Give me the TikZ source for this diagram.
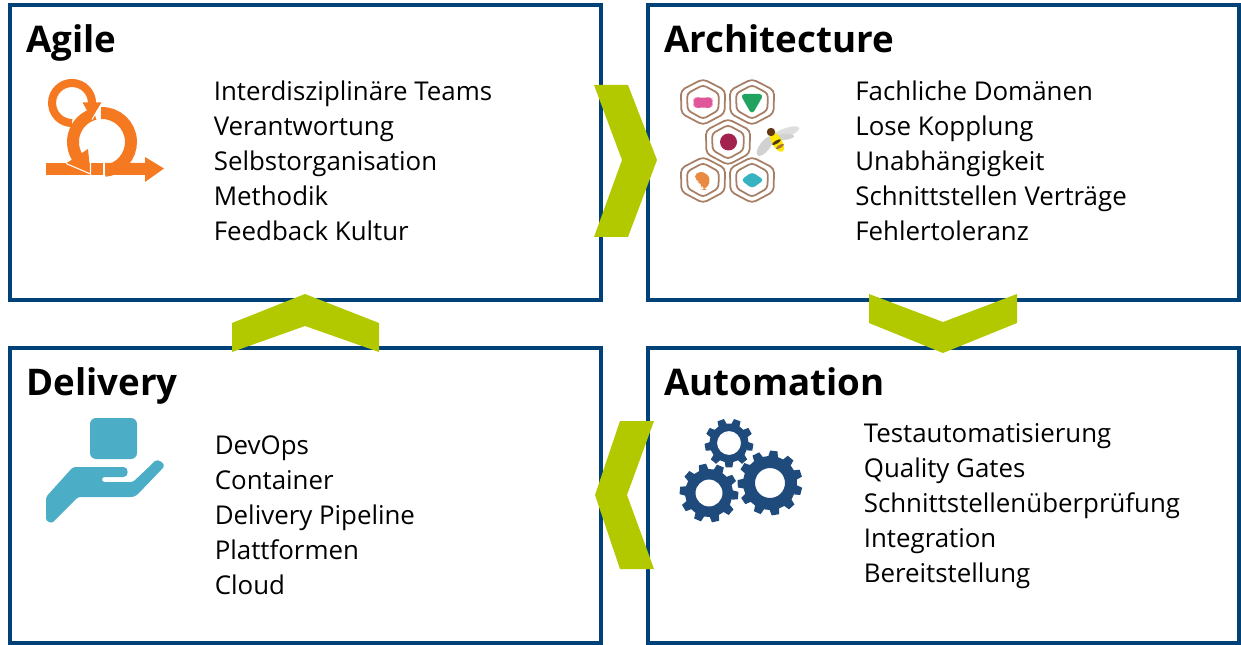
\documentclass[tikz,border=0pt]{standalone}
\usepackage{fontspec}
\setmainfont{Open Sans}
\usetikzlibrary{positioning}
\definecolor{boxblue}{HTML}{004178}
\definecolor{chevrongreen}{HTML}{B2C900}
\definecolor{agileorange}{HTML}{F47920}
\definecolor{handblue}{HTML}{4BADC6}
\definecolor{gearblue}{HTML}{1F4A7C}
\definecolor{cellbrown}{HTML}{A67F66}
\definecolor{cellpink}{HTML}{E0569A}
\definecolor{cellgreen}{HTML}{1FA35E}
\definecolor{cellmaroon}{HTML}{A3234F}
\definecolor{cellorange}{HTML}{E98A42}
\definecolor{cellteal}{HTML}{36B2C0}
% one cog wheel: x, y, outer radius, root radius, hole radius, teeth, rotation
\newcommand{\gearicon}[7]{
    \begin{scope}[shift={(#1,#2)}]
        \fill[gearblue, even odd rule] (#7:#4)
            foreach \i [evaluate=\i as \a using #7+\i*360/#6, evaluate=\i as \w using 90/#6] in {1,...,#6} {
                -- (\a-1.25*\w:#4) -- (\a-0.8*\w:#3) -- (\a+0.8*\w:#3) -- (\a+1.25*\w:#4)
            } -- cycle (0,0) circle (#5);
    \end{scope}
}
% one honeycomb cell: x, y
\newcommand{\cellicon}[2]{
    \draw[cellbrown, line width=1pt, rounded corners=2.5pt, shift={(#1,#2)}]
        (-90:23) -- (-28:25) -- (28:24.5) -- (90:23) -- (152:24.5) -- (208:25) -- cycle;
    \draw[cellbrown, line width=1pt, rounded corners=2pt, shift={(#1,#2)}]
        (-90:17) -- (-28:18) -- (28:17.5) -- (90:17) -- (152:17.5) -- (208:18) -- cycle;
}
\begin{document}
\begin{tikzpicture}[
                x=0.02cm, y=-0.02cm,
                bluebox/.style={rectangle, draw=boxblue, line width=2.3pt, minimum width=11.82cm, minimum height=5.9cm, outer sep=0pt, inner sep=0pt},
                titletext/.style={font=\bfseries\fontsize{20.9}{26}\selectfont, anchor=base west, inner sep=0pt},
                listtext/.style={font=\fontsize{14.72}{19.9}\selectfont, align=left, anchor=west, inner sep=0pt},
                chevron/.style={fill=chevrongreen},
                ]
                \useasboundingbox (0,0) rectangle (1241,645);

                \node[bluebox] (agile) at (305.5,152.5) {};
                \node[bluebox, right=0.94cm of agile] (architecture) {};
                \node[bluebox, below=0.96cm of agile] (delivery) {};
                \node[bluebox, right=0.94cm of delivery] (automation) {};

                \node[titletext] (agiletitle) at (26,53) {Agile};
                \node[titletext] (architecturetitle) at (664,53) {Architecture};
                \node[titletext] (deliverytitle) at (26,395) {Delivery};
                \node[titletext] (automationtitle) at (664,395) {Automation};

                \node[listtext] (agilelist) at (213.5,161) {Interdisziplinäre Teams\\Verantwortung\\Selbstorganisation\\Methodik\\Feedback Kultur};
                \node[listtext] (architecturelist) at (855,161) {Fachliche Domänen\\Lose Kopplung\\Unabhängigkeit\\Schnittstellen Verträge\\Fehlertoleranz};
                \node[listtext] (deliverylist) at (214.5,515) {DevOps\\Container\\Delivery Pipeline\\Plattformen\\Cloud};
                \node[listtext] (automationlist) at (863.5,506.5) {Testautomatisierung\\Quality Gates\\Schnittstellenüberprüfung\\Integration\\Bereitstellung};

                % chevrons
                \fill[chevron] (594,85) -- (628,85) -- (657,160) -- (628,237) -- (594,237) -- (622,160) -- cycle;
                \fill[chevron] (869,294) -- (943,322) -- (1017,294) -- (1017,323) -- (943,353) -- (869,323) -- cycle;
                \fill[chevron] (654,421) -- (620,421) -- (595,495) -- (620,569) -- (654,569) -- (627,495) -- cycle;
                \fill[chevron] (232,352) -- (232,323) -- (305,294) -- (379,323) -- (379,352) -- (305,326) -- cycle;

                % agile icon
                \fill[agileorange] (46,163) rectangle (103,175);
                \fill[agileorange] (105,163) -- (145,163) -- (145,157) -- (164,168.5) -- (145,182) -- (145,175) -- (105,175) -- cycle;
                \draw[agileorange, line width=6.8pt] (102,142) ++(-92:29) arc[start angle=-92, end angle=85, radius=29];
                \draw[agileorange, line width=6.8pt] (102,142) ++(-105:29) arc[start angle=-105, end angle=-215, radius=29];
                \fill[white] (103,160) rectangle (105,178);
                \draw[agileorange, line width=4.6pt] (72,103) ++(12:20) arc[start angle=12, end angle=-270, radius=20];
                \fill[agileorange] (82.5,102.5) -- (101.5,102.5) -- (92,119) -- cycle;
                \draw[white, line width=0.6pt] (92,119.5) -- (102,103);
                \fill[agileorange] (88,149) -- (90.5,174) -- (66,163.5) -- cycle;
                \draw[white, line width=0.6pt] (66,163.5) -- (90.5,174) -- (90.5,162);

                % architecture icon
                \cellicon{703}{102}
                \cellicon{752}{102}
                \cellicon{728}{142}
                \cellicon{703}{180}
                \cellicon{752}{180}
                \fill[cellpink, rounded corners=3pt] (693,96) -- (703,98.5) -- (713,96) -- (712,102.5) -- (713,109) -- (703,107) -- (693,109) -- (694,102.5) -- cycle;
                \fill[cellgreen, rounded corners=3pt] (740,94) -- (764,94) -- (752,115) -- cycle;
                \fill[cellmaroon] (728.5,142) circle (8.5);
                \fill[cellorange, rounded corners=3pt] (695,172) -- (706,172) -- (711,181) -- (705,190) -- (702,190) -- (702,183) -- (695,181) -- cycle;
                \fill[cellteal, rounded corners=2pt] (741,180) -- (752,172) -- (764,180) -- (752,188.5) -- cycle;
                % bee
                \fill[black!13, rotate around={20:(785,133)}] (785,133) ellipse (15 and 4.5);
                \fill[black!18, rotate around={5:(784,137)}] (784,137) ellipse (10 and 3);
                \fill[black!18, rotate around={-38:(765,146)}] (765,146) ellipse (5 and 12);
                \fill[yellow!90!orange, rotate around={30:(777,142)}] (777,142) ellipse (5 and 11);
                \fill[black!70!brown!80!orange] (771,132) circle (4.2);
                \fill[black!60!brown, rotate around={30:(777,143)}] (777,142) ellipse (5 and 1.6);
                \fill[brown!90!black, rotate around={30:(779,147)}] (780,147) ellipse (4.5 and 1.6);

                % delivery icon
                \fill[handblue] (96,418) -- (131,418) arc[start angle=-90, end angle=0, radius=6] -- (137,453) arc[start angle=0, end angle=90, radius=6] -- (96,459) arc[start angle=90, end angle=180, radius=6] -- (90,424) arc[start angle=180, end angle=270, radius=6] -- cycle;
                \fill[handblue, rounded corners=1.5pt] (46,497) -- (73,467) -- (121,467) .. controls (129,467) and (129,477) .. (121,477) -- (102,477) -- (102,482) -- (133,482) -- (153,463) .. controls (158,458) and (166,464) .. (162,469) -- (138,494) -- (134,497) -- (78,497) -- (55,520) .. controls (51,524) and (46,521) .. (46,516) -- cycle;

                % automation icon
                \gearicon{729}{443}{24.5}{19.5}{12}{9}{10}
                \gearicon{709}{493}{29.5}{24}{13.5}{10}{5}
                \gearicon{770}{483}{32.5}{27}{15}{11}{15}
            \end{tikzpicture}
\end{document}
